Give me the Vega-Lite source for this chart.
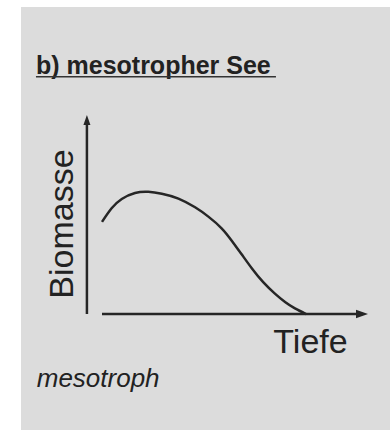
{
  "$schema": "https://vega.github.io/schema/vega-lite/v6.json",
  "width": 369,
  "height": 423,
  "autosize": {"type": "none"},
  "padding": {"left": 21, "top": 7, "right": 0, "bottom": 0},
  "background": "#ffffff",
  "view": {"fill": "#dcdcdc", "stroke": null},
  "config": {
    "axis": {"disable": true},
    "text": {"font": "Liberation Sans", "color": "#222222"}
  },
  "datasets": {
    "profil": [
      {"Tiefe": 0.0, "Biomasse": 4.75},
      {"Tiefe": 0.37, "Biomasse": 5.45},
      {"Tiefe": 0.76, "Biomasse": 5.93},
      {"Tiefe": 1.27, "Biomasse": 6.24},
      {"Tiefe": 1.78, "Biomasse": 6.3},
      {"Tiefe": 2.3, "Biomasse": 6.2},
      {"Tiefe": 2.94, "Biomasse": 5.95},
      {"Tiefe": 3.58, "Biomasse": 5.5},
      {"Tiefe": 4.09, "Biomasse": 5.02},
      {"Tiefe": 4.6, "Biomasse": 4.42},
      {"Tiefe": 4.99, "Biomasse": 3.78},
      {"Tiefe": 5.37, "Biomasse": 3.08},
      {"Tiefe": 5.76, "Biomasse": 2.36},
      {"Tiefe": 6.2, "Biomasse": 1.64},
      {"Tiefe": 6.65, "Biomasse": 1.05},
      {"Tiefe": 7.04, "Biomasse": 0.62},
      {"Tiefe": 7.42, "Biomasse": 0.29},
      {"Tiefe": 7.85, "Biomasse": 0.0}
    ],
    "eins": [{}]
  },
  "layer": [
    {
      "data": {"name": "profil"},
      "mark": {"type": "line", "interpolate": "natural", "color": "#262626", "strokeWidth": 2.5},
      "encoding": {
        "x": {"field": "Tiefe", "type": "quantitative", "axis": null,
              "scale": {"domain": [-3.1154, 11.0769], "nice": false, "zero": false}},
        "y": {"field": "Biomasse", "type": "quantitative", "axis": null,
              "scale": {"domain": [-5.979, 15.825], "nice": false, "zero": false}}
      }
    },
    {
      "data": {"name": "eins"},
      "mark": {"type": "rule", "color": "#262626", "strokeWidth": 2.5},
      "encoding": {
        "x": {"datum": 0, "type": "quantitative", "axis": null},
        "x2": {"datum": 10},
        "y": {"datum": 0, "type": "quantitative", "axis": null}
      }
    },
    {
      "data": {"name": "eins"},
      "mark": {"type": "rule", "color": "#262626", "strokeWidth": 2.5},
      "encoding": {
        "x": {"datum": -0.58, "type": "quantitative", "axis": null},
        "y": {"datum": 0, "type": "quantitative", "axis": null},
        "y2": {"datum": 10}
      }
    },
    {
      "data": {"name": "eins"},
      "mark": {"type": "point", "filled": true, "color": "#262626", "opacity": 1,
               "shape": "M0,-1L0.7,1L-0.7,1Z", "size": 100},
      "encoding": {
        "x": {"datum": -0.58, "type": "quantitative", "axis": null},
        "y": {"datum": 10, "type": "quantitative", "axis": null}
      }
    },
    {
      "data": {"name": "eins"},
      "mark": {"type": "point", "filled": true, "color": "#262626", "opacity": 1,
               "shape": "M1,0L-1,0.7L-1,-0.7Z", "size": 144},
      "encoding": {
        "x": {"datum": 10, "type": "quantitative", "axis": null},
        "y": {"datum": 0, "type": "quantitative", "axis": null}
      }
    },
    {
      "data": {"name": "eins"},
      "mark": {"type": "text", "align": "left", "baseline": "alphabetic",
               "fontSize": 25, "fontWeight": "bold"},
      "encoding": {
        "x": {"datum": -2.54, "type": "quantitative", "axis": null},
        "y": {"datum": 12.36, "type": "quantitative", "axis": null},
        "text": {"value": "b) mesotropher See"}
      }
    },
    {
      "data": {"name": "eins"},
      "mark": {"type": "rule", "color": "#333333", "strokeWidth": 1.5},
      "encoding": {
        "x": {"datum": -2.54, "type": "quantitative", "axis": null},
        "x2": {"datum": 6.69},
        "y": {"datum": 12.23, "type": "quantitative", "axis": null}
      }
    },
    {
      "data": {"name": "eins"},
      "mark": {"type": "text", "align": "center", "baseline": "alphabetic",
               "angle": 270, "fontSize": 34},
      "encoding": {
        "x": {"datum": -1.1, "type": "quantitative", "axis": null},
        "y": {"datum": 4.64, "type": "quantitative", "axis": null},
        "text": {"value": "Biomasse"}
      }
    },
    {
      "data": {"name": "eins"},
      "mark": {"type": "text", "align": "left", "baseline": "alphabetic", "fontSize": 34},
      "encoding": {
        "x": {"datum": 6.59, "type": "quantitative", "axis": null},
        "y": {"datum": -2.03, "type": "quantitative", "axis": null},
        "text": {"value": "Tiefe"}
      }
    },
    {
      "data": {"name": "eins"},
      "mark": {"type": "text", "align": "left", "baseline": "alphabetic",
               "fontSize": 26, "fontStyle": "italic"},
      "encoding": {
        "x": {"datum": -2.51, "type": "quantitative", "axis": null},
        "y": {"datum": -3.75, "type": "quantitative", "axis": null},
        "text": {"value": "mesotroph"}
      }
    }
  ]
}
